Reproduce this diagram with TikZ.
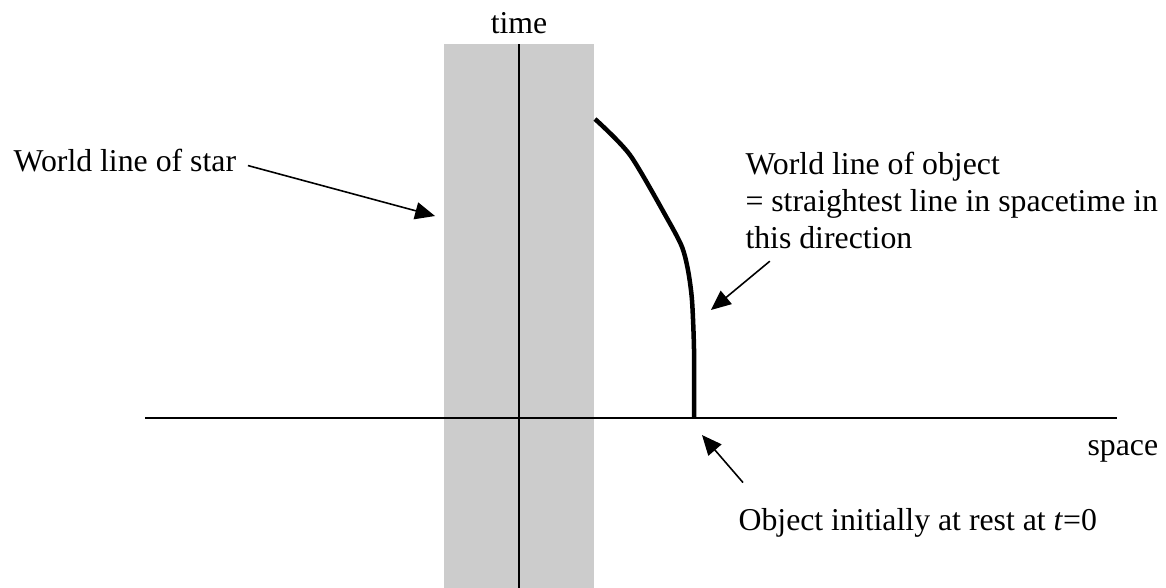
\documentclass[tikz,border=0pt]{standalone}
\usepackage{fontspec}
\setmainfont{Liberation Serif}
\usetikzlibrary{arrows.meta}
\tikzset{
  axis/.style={draw=black, line width=0.75pt},
  band/.style={fill=black!20, draw=none},
  worldline/.style={draw=black, line width=1.7pt, line join=round},
  pointer/.style={-{Triangle[length=7.5pt,width=6.5pt]}, line width=0.6pt},
  caption/.style={inner sep=0pt, font=\fontsize{12}{14}\selectfont, align=left}
}

\begin{document}
\begin{tikzpicture}
  \useasboundingbox (-6.886,-2.255) rectangle (8.584,5.546);
  % star region and axes
  \fill[band] (-0.995,-2.255) rectangle (0.995,4.962);
  \draw[axis] (0,-2.255) -- (0,4.962);
  \draw[axis] (-4.962,0) -- (7.934,0);
  \node[caption, anchor=base] (tlbl) at (0,5.108) {time};
  \node[caption, anchor=base west] (xlbl) at (7.536,-0.491) {space};
  % world line of the object
  \draw[worldline] plot[smooth, tension=0.45] coordinates {
    (1.008,3.967) (1.473,3.489) (1.977,2.627) (2.163,2.269)
    (2.242,1.963) (2.295,1.565) (2.322,0.902) (2.322,0)};
  % labels and pointers
  \node[caption, anchor=base west] (starlbl) at (-6.713,3.264) {World line of star};
  \node[caption, anchor=north west] (objlbl) at (2.998,3.54)
    {World line of object\\= straightest line in spacetime in\\this direction};
  \node[caption, anchor=base west] (restlbl) at (2.906,-1.486) {Object initially at rest at \textit{t}=0};
  \coordinate (startip) at (-1.114,2.680);
  \coordinate (objtip) at (2.547,1.433);
  \coordinate (resttip) at (2.428,-0.226);
  \draw[pointer] ([xshift=0.15cm,yshift=-0.06cm]starlbl.east) -- (startip);
  \draw[pointer] ([xshift=0.33cm,yshift=-0.16cm]objlbl.south west) -- (objtip);
  \draw[pointer] ([xshift=0.066cm,yshift=0.33cm]restlbl.north west) -- (resttip);
\end{tikzpicture}
\end{document}
